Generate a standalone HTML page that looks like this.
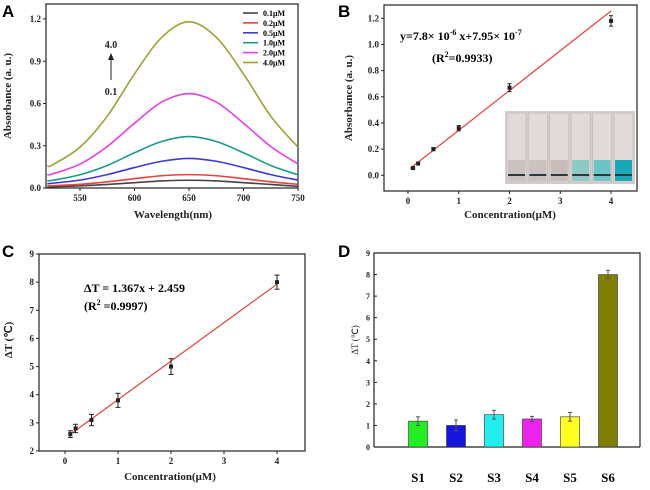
<!DOCTYPE html>
<html><head><meta charset="utf-8"><style>
html,body{margin:0;padding:0;background:#fff;}
svg{display:block;font-family:"Liberation Serif",serif;}
.tk{font-size:9px;font-weight:bold;fill:#222;}
.tt{font-size:11px;font-weight:bold;fill:#222;}
.pl{font-family:"Liberation Sans",sans-serif;font-size:17px;font-weight:bold;fill:#000;}
</style></head><body>
<svg id="fig" width="650" height="490" viewBox="0 0 650 490" xmlns="http://www.w3.org/2000/svg"></svg>
<script>
// Panel A data
const aWave = [520,525,550,575,600,625,650,675,700,725,750];
const aLabels = ['0.1μM','0.2μM','0.5μM','1.0μM','2.0μM','4.0μM'];
const aColors = ['#444','#e8403a','#3a3ad8','#1b9a8c','#e83ee8','#a0a030'];
const aS01 = [0.008,0.009,0.015,0.025,0.038,0.05,0.055,0.05,0.038,0.025,0.012];
const aS02 = [0.015,0.016,0.026,0.044,0.066,0.087,0.095,0.087,0.066,0.044,0.026];
const aS05 = [0.03,0.034,0.056,0.095,0.145,0.19,0.21,0.19,0.145,0.095,0.056];
const aS10 = [0.05,0.055,0.094,0.16,0.25,0.33,0.365,0.33,0.25,0.16,0.094];
const aS20 = [0.095,0.1,0.17,0.295,0.46,0.61,0.67,0.61,0.46,0.295,0.17];
const aS40 = [0.155,0.165,0.29,0.51,0.81,1.07,1.18,1.07,0.81,0.51,0.29];
const aXTicks = [550,600,650,700,750];
const aYTicks = [0,0.3,0.6,0.9,1.2];
// Panel B data
const bConc = [0.1,0.2,0.5,1,2,4];
const bAbs = [0.055,0.09,0.2,0.36,0.67,1.18];
const bErr = [0.01,0.01,0.012,0.02,0.03,0.04];
const bFit = [0.304,0.04];
const bXTicks = [0,1,2,3,4];
const bYTicks = [0,0.2,0.4,0.6,0.8,1.0,1.2];
// Panel C data
const cConc = [0.1,0.2,0.5,1,2,4];
const cDT = [2.6,2.8,3.1,3.8,5.0,8.0];
const cErr = [0.12,0.15,0.2,0.25,0.28,0.25];
const cFit = [1.367,2.459];
const cXTicks = [0,1,2,3,4];
const cYTicks = [2,3,4,5,6,7,8,9];
// Panel D data
const dCats = ['S1','S2','S3','S4','S5','S6'];
const dVals = [1.2,1.0,1.5,1.3,1.4,8.0];
const dErr = [0.2,0.25,0.2,0.12,0.2,0.2];
const dColors = ['#22ee22','#1515dd','#22eeee','#ee22ee','#ffff22','#808000'];
const dYTicks = [0,1,2,3,4,5,6,7,8,9];

const NS='http://www.w3.org/2000/svg';
const fig=document.getElementById('fig');
function mk(tag,attrs,parent,text){const e=document.createElementNS(NS,tag);for(const k in attrs)e.setAttribute(k,attrs[k]);if(text!==undefined)e.textContent=text;(parent||fig).appendChild(e);return e;}
function lin(d0,d1,r0,r1){return v=>r0+(v-d0)*(r1-r0)/(d1-d0);}
function smooth(pts){let d='M'+pts[0][0]+','+pts[0][1];for(let i=0;i<pts.length-1;i++){const p0=pts[Math.max(i-1,0)],p1=pts[i],p2=pts[i+1],p3=pts[Math.min(i+2,pts.length-1)];d+=' C'+(p1[0]+(p2[0]-p0[0])/6)+','+(p1[1]+(p2[1]-p0[1])/6)+' '+(p2[0]-(p3[0]-p1[0])/6)+','+(p2[1]-(p3[1]-p1[1])/6)+' '+p2[0]+','+p2[1];}return d;}
function frame(g,x0,y0,x1,y1,name){const r=mk('rect',{x:x0,y:y0,width:x1-x0,height:y1-y0,fill:'none',stroke:'#222','stroke-width':1.2},g);}
function yAxis(g,ticks,sy,x0,fmt,name){const ax=mk('g',{},g);ticks.forEach(t=>{const y=sy(t);mk('line',{x1:x0-3,x2:x0,y1:y,y2:y,stroke:'#222'},ax);const tx=mk('text',{x:x0-5,y:y+3,'text-anchor':'end',class:'tk'},ax,fmt(t));});}
function xAxis(g,ticks,sx,y0,fmt,name){const ax=mk('g',{},g);ticks.forEach(t=>{const x=sx(t);mk('line',{x1:x,x2:x,y1:y0,y2:y0+3,stroke:'#222'},ax);const tx=mk('text',{x:x,y:y0+13,'text-anchor':'middle',class:'tk'},ax,fmt(t));});}
function title(g,x,y,txt,rot,name){const t=mk('text',{x:x,y:y,'text-anchor':'middle',class:'tt',transform:rot?'rotate(-90 '+x+' '+y+')':''},g,txt);}
function panelLabel(x,y,t){const e=mk('text',{x:x,y:y,class:'pl'},fig,t);}

// ---------- Panel A ----------
(function(){
const g=mk('g',{});
const sx=lin(550,750,80,298), sy=lin(0,1.2,188,19);
frame(g,46,4,298,188,'panel-a-frame');
const series=[aS01,aS02,aS05,aS10,aS20,aS40];
series.forEach((s,i)=>{const p=mk('path',{d:smooth(aWave.map((w,j)=>[sx(w),sy(s[j])])),fill:'none',stroke:aColors[i],'stroke-width':1.6},g);});
yAxis(g,aYTicks,sy,46,v=>v.toFixed(1),'panel-a-y-axis');
xAxis(g,aXTicks,sx,188,v=>v,'panel-a-x-axis');
title(g,11,96,'Absorbance (a. u.)',true,'panel-a-y-title');
title(g,173,218,'Wavelength(nm)',false,'panel-a-x-title');
const lg=mk('g',{},g);
aLabels.forEach((l,i)=>{const y=13+i*9.9;mk('line',{x1:243,x2:258,y1:y,y2:y,stroke:aColors[i],'stroke-width':1.6},lg);const t=mk('text',{x:263,y:y+3,style:'font-size:8px;font-weight:bold'},lg,l);});
const ar=mk('g',{},g);
mk('line',{x1:111,x2:111,y1:80,y2:58,stroke:'#222','stroke-width':1},ar);
mk('path',{d:'M108,60 L111,53 L114,60 Z',fill:'#222'},ar);
mk('text',{x:111,y:48,'text-anchor':'middle',class:'tk',style:'font-size:10px'},ar,'4.0');
mk('text',{x:111,y:95,'text-anchor':'middle',class:'tk',style:'font-size:10px'},ar,'0.1');
})();

// ---------- Panel B ----------
(function(){
const g=mk('g',{});
const sx=lin(0,4,408,611), sy=lin(0,1.2,175.3,18.3);
frame(g,384,5,637,191,'panel-b-frame');
// inset photo
const ins=mk('g',{},g);
mk('rect',{x:505,y:111,width:130,height:73,fill:'#d6cccc'},ins);
const liq=['#c9c2c0','#c8c1bf','#c7bcb8','#8fc9c6','#6cc4c6','#1aa8b8'];
for(let i=0;i<6;i++){const x=507+i*21.4;mk('rect',{x:x,y:113,width:19,height:69,fill:'#e2d9d9',stroke:'#bfb6b6','stroke-width':0.6},ins);mk('rect',{x:x+1,y:160,width:17,height:21,fill:liq[i]},ins);mk('rect',{x:x+1,y:174,width:17,height:2,fill:'#2a3a3a'},ins);}
const L=mk('line',{x1:sx(0.04),y1:sy(bFit[0]*0.04+bFit[1]),x2:sx(4),y2:sy(bFit[0]*4+bFit[1]),stroke:'#e8403a','stroke-width':1.2},g);
bConc.forEach((c,i)=>{const pg=mk('g',{},g);const x=sx(c);mk('line',{x1:x,x2:x,y1:sy(bAbs[i]-bErr[i]),y2:sy(bAbs[i]+bErr[i]),stroke:'#222'},pg);[bAbs[i]-bErr[i],bAbs[i]+bErr[i]].forEach(v=>mk('line',{x1:x-2,x2:x+2,y1:sy(v),y2:sy(v),stroke:'#222'},pg));mk('rect',{x:x-2,y:sy(bAbs[i])-2,width:4,height:4,fill:'#222'},pg);});
yAxis(g,bYTicks,sy,384,v=>v.toFixed(1),'panel-b-y-axis');
xAxis(g,bXTicks,sx,191,v=>v,'panel-b-x-axis');
title(g,352,98,'Absorbance (a. u.)',true,'panel-b-y-title');
title(g,510,218,'Concentration(μM)',false,'panel-b-x-title');
const eq=mk('text',{x:400,y:40,style:'font-size:12px;font-weight:bold'},g);
eq.innerHTML='y=7.8× 10<tspan dy="-5" font-size="8">-6</tspan><tspan dy="5"> x+7.95× 10</tspan><tspan dy="-5" font-size="8">-7</tspan>';
const r2=mk('text',{x:432,y:62,style:'font-size:12px;font-weight:bold'},g);
r2.innerHTML='(R<tspan dy="-5" font-size="8">2</tspan><tspan dy="5">=0.9933)</tspan>';
})();

// ---------- Panel C ----------
(function(){
const g=mk('g',{});
const sx=lin(0,4,65,277), sy=lin(2,9,451,254);
frame(g,39,254,305,451,'panel-c-frame');
const L=mk('line',{x1:sx(0.1),y1:sy(cFit[0]*0.1+cFit[1]),x2:sx(4),y2:sy(cFit[0]*4+cFit[1]),stroke:'#e8403a','stroke-width':1.2},g);
cConc.forEach((c,i)=>{const pg=mk('g',{},g);const x=sx(c);mk('line',{x1:x,x2:x,y1:sy(cDT[i]-cErr[i]),y2:sy(cDT[i]+cErr[i]),stroke:'#222'},pg);[cDT[i]-cErr[i],cDT[i]+cErr[i]].forEach(v=>mk('line',{x1:x-2.5,x2:x+2.5,y1:sy(v),y2:sy(v),stroke:'#222'},pg));mk('rect',{x:x-2,y:sy(cDT[i])-2,width:4,height:4,fill:'#222'},pg);});
yAxis(g,cYTicks,sy,39,v=>v,'panel-c-y-axis');
xAxis(g,cXTicks,sx,451,v=>v,'panel-c-x-axis');
title(g,12,340,'ΔT (℃)',true,'panel-c-y-title');
title(g,170,480,'Concentration(μM)',false,'panel-c-x-title');
const e=mk('text',{x:84,y:292,style:'font-size:12px;font-weight:bold'},g,'ΔT = 1.367x + 2.459');
const r2=mk('text',{x:84,y:310,style:'font-size:12px;font-weight:bold'},g);
r2.innerHTML='(R<tspan dy="-5" font-size="8">2</tspan><tspan dy="5"> =0.9997)</tspan>';
})();

// ---------- Panel D ----------
(function(){
const g=mk('g',{});
const sy=lin(0,9,447,253);
const sx=i=>418+i*38;
mk('polyline',{points:'374,447 374,253 640,253 640,447',fill:'none',stroke:'#222','stroke-width':1.2},g);
mk('line',{x1:374,x2:640,y1:447,y2:447,stroke:'#222','stroke-width':1.2},g);
dCats.forEach((c,i)=>{const x=sx(i);const b=mk('rect',{x:x-9.5,y:sy(dVals[i]),width:19,height:sy(0)-sy(dVals[i]),fill:dColors[i],stroke:'#333','stroke-width':0.6},g);
const eg=mk('g',{},g);
mk('line',{x1:x,x2:x,y1:sy(dVals[i]-dErr[i]),y2:sy(dVals[i]+dErr[i]),stroke:'#555'},eg);[dVals[i]-dErr[i],dVals[i]+dErr[i]].forEach(v=>mk('line',{x1:x-2,x2:x+2,y1:sy(v),y2:sy(v),stroke:'#555'},eg));
const t=mk('text',{x:x,y:482,'text-anchor':'middle',style:'font-size:13px;font-weight:bold'},g,c);});
const ax=mk('g',{},g);
dYTicks.forEach(t=>{const y=sy(t);mk('line',{x1:374,x2:377,y1:y,y2:y,stroke:'#222'},ax);const tx=mk('text',{x:370,y:y+3,'text-anchor':'end',class:'tk',style:'font-size:8px'},ax,t);});
const yt=mk('text',{x:358,y:340,'text-anchor':'middle',transform:'rotate(-90 358 340)',style:'font-size:9px;fill:#222'},g,'ΔT (℃)');
})();

panelLabel(2,17,'A');panelLabel(338,17,'B');panelLabel(2,257,'C');panelLabel(338,257,'D');
</script>
</body></html>
